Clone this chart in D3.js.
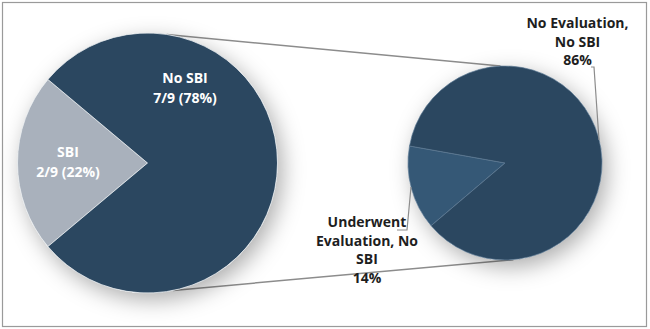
<!DOCTYPE html>
<html>
<head>
<meta charset="utf-8">
<script src="https://cdn.jsdelivr.net/npm/d3@7"></script>
<style>
  body { margin: 0; background: #fff; }
  svg { display: block; font-family: "Open Sans", "DejaVu Sans", sans-serif; }
</style>
</head>
<body>
<div id="chart"></div>
<script>
// left pie: all cases
const leftCats = ["SBI", "No SBI"];
const leftVals = [2, 7];
const leftLabels = [["SBI", "2/9 (22%)"], ["No SBI", "7/9 (78%)"]];
// right pie: breakdown of "No SBI"
const rightCats = ["Underwent Evaluation, No SBI", "No Evaluation, No SBI"];
const rightVals = [14, 86];
const rightLabels = [["Underwent", "Evaluation, No", "SBI", "14%"], ["No Evaluation,", "No SBI", "86%"]];

const W = 650, H = 329;
const deg = Math.PI / 180;

const svg = d3.select("#chart").append("svg")
    .attr("width", W)
    .attr("height", H);

const defs = svg.append("defs");
defs.append("filter")
    .attr("id", "shadow")
    .attr("x", "-50%").attr("y", "-50%")
    .attr("width", "200%").attr("height", "200%")
    .append("feDropShadow")
    .attr("dx", 5).attr("dy", 7)
    .attr("stdDeviation", 11)
    .attr("flood-color", "#000")
    .attr("flood-opacity", 0.32);

// frame
svg.append("rect")
    .attr("x", 2.5).attr("y", 2.5)
    .attr("width", 644).attr("height", 324)
    .attr("fill", "#fff")
    .attr("stroke", "#9a9a9a")
    .attr("stroke-width", 1.2);

const left = { cx: 147.5, cy: 163, r: 130 };
const right = { cx: 505, cy: 163, r: 97 };

function onCircle(c, a) {
    return [c.cx + c.r * Math.sin(a * deg), c.cy - c.r * Math.cos(a * deg)];
}

// connector lines between the two pies
[[8.5, -2.7], [168.6, 175]].forEach(([a1, a2]) => {
    const p1 = onCircle(left, a1), p2 = onCircle(right, a2);
    svg.append("line")
        .attr("x1", p1[0]).attr("y1", p1[1])
        .attr("x2", p2[0]).attr("y2", p2[1])
        .attr("stroke", "#8c8c8c")
        .attr("stroke-width", 1.5);
});

// left pie
const leftShare = leftVals[0] / d3.sum(leftVals);
const leftStart = 3 * Math.PI / 2 - leftShare * Math.PI;
const leftPie = d3.pie().sort(null)
    .startAngle(leftStart).endAngle(leftStart + 2 * Math.PI)(leftVals);
const leftArc = d3.arc().innerRadius(0).outerRadius(left.r);
const leftColors = ["#a9b1bc", "#2b4760"];

const gL = svg.append("g")
    .attr("transform", `translate(${left.cx},${left.cy})`);
gL.append("circle").attr("r", left.r).attr("fill", "#fff").attr("filter", "url(#shadow)");
gL.selectAll("path")
    .data(leftPie)
    .join("path")
    .attr("d", leftArc)
    .attr("fill", (d, i) => leftColors[i])
    .attr("stroke", "#e8ecef")
    .attr("stroke-width", 0.8);

// right pie
const rightStart = 229.7 * deg;
const rightPie = d3.pie().sort(null)
    .startAngle(rightStart).endAngle(rightStart + 2 * Math.PI)(rightVals);
const rightArc = d3.arc().innerRadius(0).outerRadius(right.r);
const rightColors = ["#355876", "#2b4760"];

const gR = svg.append("g")
    .attr("transform", `translate(${right.cx},${right.cy})`);
gR.append("circle").attr("r", right.r).attr("fill", "#fff").attr("filter", "url(#shadow)");
gR.selectAll("path")
    .data(rightPie)
    .join("path")
    .attr("d", rightArc)
    .attr("fill", (d, i) => rightColors[i])
    .attr("stroke", "#5d7a93")
    .attr("stroke-width", 0.7);

// leader lines
const leaders = [
    [[397, 230], [407, 230], [411, 187]],
    [[591, 67], [594, 67], [599, 140]]
];
leaders.forEach(pts => {
    svg.append("path")
        .attr("d", d3.line()(pts))
        .attr("fill", "none")
        .attr("stroke", "#8c8c8c")
        .attr("stroke-width", 1.2);
});

// labels
function label(lines, x, y, color, step) {
    const t = svg.append("text")
        .attr("text-anchor", "middle")
        .attr("font-size", 14)
        .attr("font-weight", 700)
        .attr("fill", color);
    lines.forEach((s, i) => {
        t.append("tspan").attr("x", x).attr("y", y + i * step).text(s);
    });
}
label(leftLabels[0], 68, 157, "#ffffff", 20);
label(leftLabels[1], 185, 83, "#ffffff", 20);
label(rightLabels[0], 367, 227, "#1e1e1e", 18.5);
label(rightLabels[1], 577.5, 28, "#1e1e1e", 18.5);
</script>
</body>
</html>
